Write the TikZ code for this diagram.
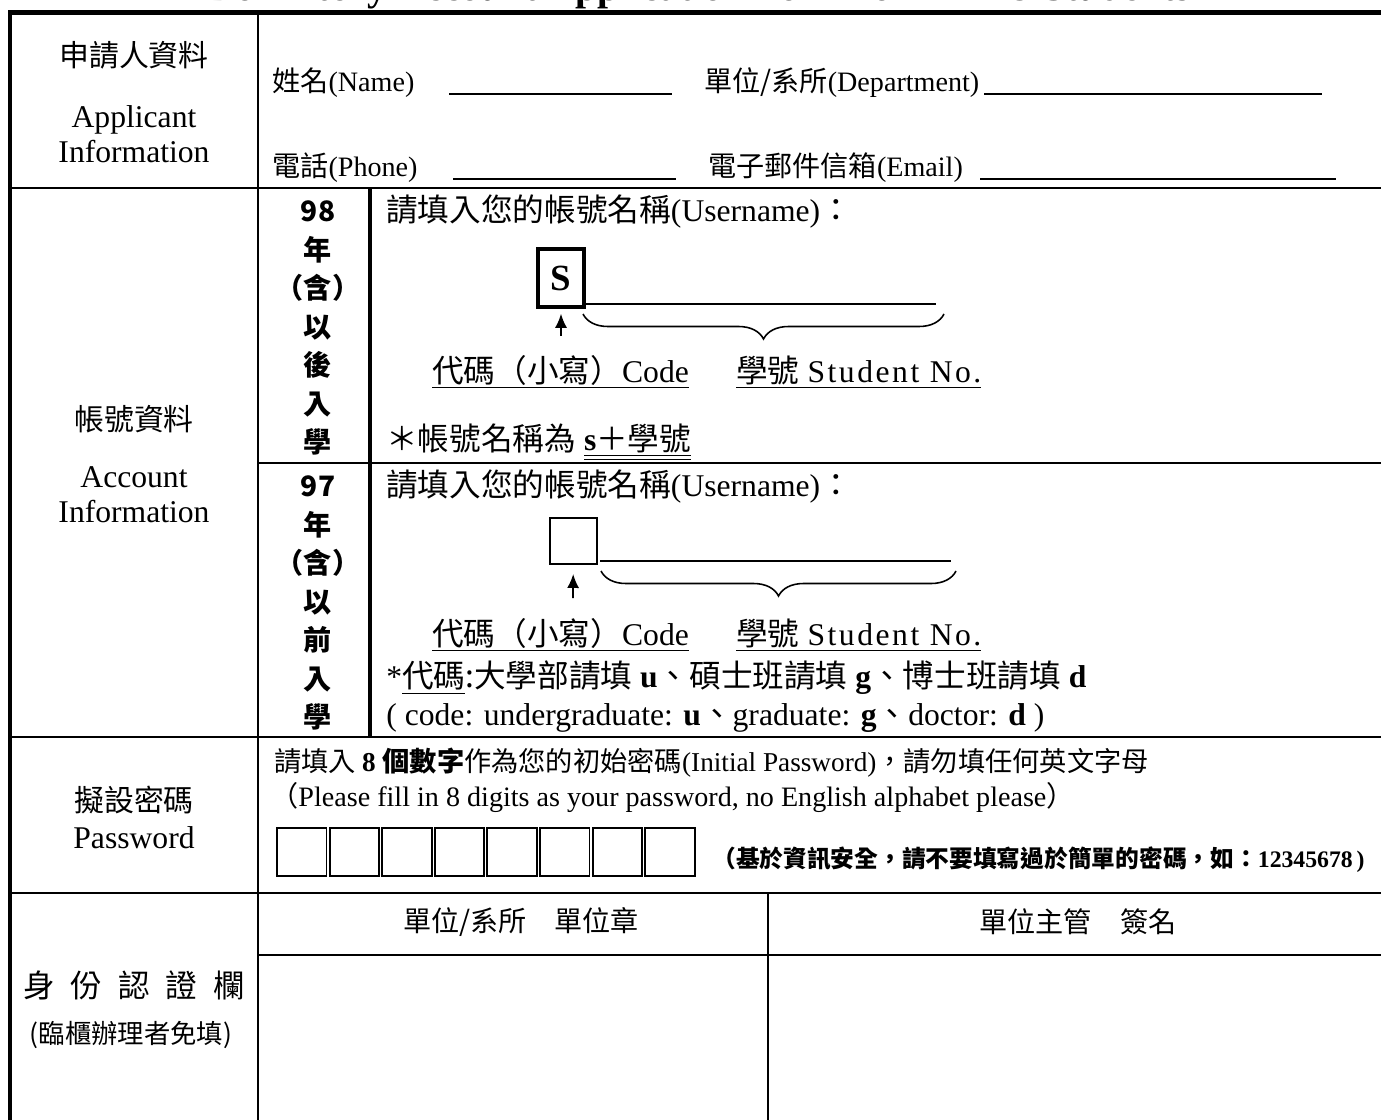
\documentclass[tikz,border=0pt]{standalone}
\usepackage{fontspec}
\setmainfont{Liberation Serif}
\newfontfamily\cjk{Noto Sans CJK TC}
\newfontfamily\wide[LetterSpace=8]{Liberation Serif}
\usetikzlibrary{arrows.meta,decorations.pathreplacing}

\begin{document}
\begin{tikzpicture}[x=0.02cm,y=-0.02cm,
 frameline/.style={line width=2.8pt},
 rowline/.style={line width=1.5pt},
 cellline/.style={line width=1.1pt},
 fatline/.style={line width=2.5pt},
 pointer/.style={-{Latex[length=0.28cm,width=0.24cm]},line width=1pt},
 cnlbl/.style={inner sep=0pt,font=\cjk\fontsize{17pt}{20pt}\selectfont},
 enlbl/.style={inner sep=0pt,align=center,font=\fontsize{18pt}{20pt}\selectfont},
 field/.style={inner sep=0pt,anchor=west,font=\fontsize{16pt}{18pt}\selectfont},
 ask/.style={inner sep=0pt,anchor=west,font=\fontsize{18pt}{20pt}\selectfont},
 yearcol/.style={inner sep=0pt,align=center,font=\cjk\bfseries\fontsize{16pt}{21.9pt}\selectfont},
 curly/.style={decorate,decoration={brace,mirror,amplitude=0.5cm},line width=0.9pt}]
 \useasboundingbox (0,0) rectangle (1381,1119);
 \node[anchor=base,inner sep=0pt,font=\bfseries\fontsize{22.5pt}{24pt}\selectfont] (title) at (699,1) {Dormitory Account Application Form for NTHU Students};
 \draw[frameline] (10,12.5) -- (1395,12.5);
 \draw[frameline] (10,10) -- (10,1130);
 \draw[cellline] (258,12.5) -- (258,1130);
 \draw[rowline] (10,188) -- (1395,188);
 \draw[fatline] (370,188) -- (370,737);
 \draw[rowline] (258,463) -- (1395,463);
 \draw[rowline] (10,737) -- (1395,737);
 \draw[rowline] (10,893) -- (1395,893);
 \draw[rowline] (258,955) -- (1395,955);
 \draw[cellline] (768,893) -- (768,1130);
 \node[cnlbl] (appcn) at (134,55) {申請人資料};
 \node[enlbl] (appen) at (134,134) {Applicant\\Information};
 \node[field] (name) at (272,83) {{\cjk 姓名}(Name)};
 \node[field] (dept) at (704,83) {{\cjk 單位/系所}(Department)};
 \node[field] (phone) at (272,168) {{\cjk 電話}(Phone)};
 \node[field] (email) at (708,168) {{\cjk 電子郵件信箱}(Email)};
 \draw[line width=0.8pt] (449,94) -- (672,94);
 \draw[line width=0.8pt] (984,94) -- (1322,94);
 \draw[line width=0.8pt] (453,179) -- (676,179);
 \draw[line width=1.6pt] (980,179) -- (1336,179);
 \node[cnlbl] (acccn) at (134,419) {帳號資料};
 \node[enlbl] (accen) at (134,495) {Account\\Information};
 \node[yearcol] (new) at (318,328) {98\\年\\（含）\\以\\後\\入\\學};
 \node[yearcol] (old) at (318,603) {97\\年\\（含）\\以\\前\\入\\學};
 \node[ask] (ask98) at (386,212) {{\cjk 請填入您的帳號名稱}(Username){\cjk ：}};
 \node[draw,line width=2pt,minimum width=0.92cm,minimum height=1.16cm,inner sep=0pt,font=\bfseries\fontsize{21pt}{22pt}\selectfont] (box98) at (561,278) {S};
 \coordinate (line98a) at (586,304);
 \coordinate (line98b) at (936,304);
 \draw[line width=0.8pt] (line98a) -- (line98b);
 \coordinate (tail98) at (561,336);
 \draw[pointer,shorten >=0.1cm] (tail98) -- (box98);
 \coordinate (br98a) at (583,314);
 \coordinate (br98b) at (944,314);
 \draw[curly] (br98a) -- (br98b);
 \node[ask] (code98) at (432,372) {\underline{{\cjk 代碼（小寫）}Code}};
 \node[ask] (sno98) at (736,372) {\underline{{\cjk 學號} {\wide Student No.}}};
 \node[ask] (note98) at (386,442) {{\cjk ＊帳號名稱為} \underline{\underline{\textbf{s}{\cjk ＋學號}}}};
 \node[ask] (ask97) at (386,487) {{\cjk 請填入您的帳號名稱}(Username){\cjk ：}};
 \node[draw,line width=1.1pt,minimum width=0.94cm,minimum height=0.92cm,inner sep=0pt] (box97) at (573.5,541) {};
 \coordinate (line97a) at (600,561);
 \coordinate (line97b) at (951,561);
 \draw[line width=0.8pt] (line97a) -- (line97b);
 \coordinate (tail97) at (573,598);
 \draw[pointer,shorten >=0.18cm] (tail97) -- (box97);
 \coordinate (br97a) at (601,571);
 \coordinate (br97b) at (956,571);
 \draw[curly] (br97a) -- (br97b);
 \node[ask] (code97) at (432,635) {\underline{{\cjk 代碼（小寫）}Code}};
 \node[ask] (sno97) at (736,635) {\underline{{\cjk 學號} {\wide Student No.}}};
 \node[ask] (rule97) at (386,678) {*{\cjk \underline{代碼}:大學部請填} \textbf{u}{\cjk 、碩士班請填} \textbf{g}{\cjk 、博士班請填} \textbf{d}};
 \node[ask] (rule97en) at (386,718) {( code: undergraduate: \textbf{u}{\cjk 、}graduate: \textbf{g}{\cjk 、}doctor: \textbf{d} )};
 \node[cnlbl] (pwcn) at (134,800) {擬設密碼};
 \node[enlbl] (pwen) at (134,838) {Password};
 \node[field,font=\fontsize{15.5pt}{17pt}\selectfont] (pwask) at (274,763) {{\cjk 請填入 }\textbf{8 {\cjk 個數字}}{\cjk 作為您的初始密碼}(Initial Password){\cjk ，請勿填任何英文字母}};
 \node[field,font=\fontsize{16pt}{18pt}\selectfont] (pweng) at (270,797) {{\cjk （}Please fill in 8 digits as your password, no English alphabet please{\cjk ）}};
 \draw[cellline] (277,828) rectangle (326.5,876);
 \draw[cellline] (329.6,828) rectangle (379.1,876);
 \draw[cellline] (382.2,828) rectangle (431.7,876);
 \draw[cellline] (434.8,828) rectangle (484.3,876);
 \draw[cellline] (487.4,828) rectangle (536.9,876);
 \draw[cellline] (540,828) rectangle (589.5,876);
 \draw[cellline] (592.6,828) rectangle (642.1,876);
 \draw[cellline] (645.2,828) rectangle (694.7,876);
 \node[field,font=\bfseries\fontsize{13.5pt}{16pt}\selectfont] (pwwarn) at (712,860) {{\cjk （基於資訊安全，請不要填寫過於簡單的密碼，如：}12345678\,)};
 \node[cnlbl,font=\cjk\fontsize{18pt}{20pt}\selectfont] (idcn) at (134,985) {身\enspace 份\enspace 認\enspace 證\enspace 欄};
 \node[cnlbl,font=\cjk\fontsize{15pt}{18pt}\selectfont] (idnote) at (131,1035) {(臨櫃辦理者免填)};
 \node[cnlbl,font=\cjk\fontsize{16pt}{18pt}\selectfont] (stamp) at (521,922) {單位/系所　單位章};
 \node[cnlbl,font=\cjk\fontsize{16pt}{18pt}\selectfont] (sign) at (1078,922) {單位主管　簽名};
\end{tikzpicture}
\end{document}
